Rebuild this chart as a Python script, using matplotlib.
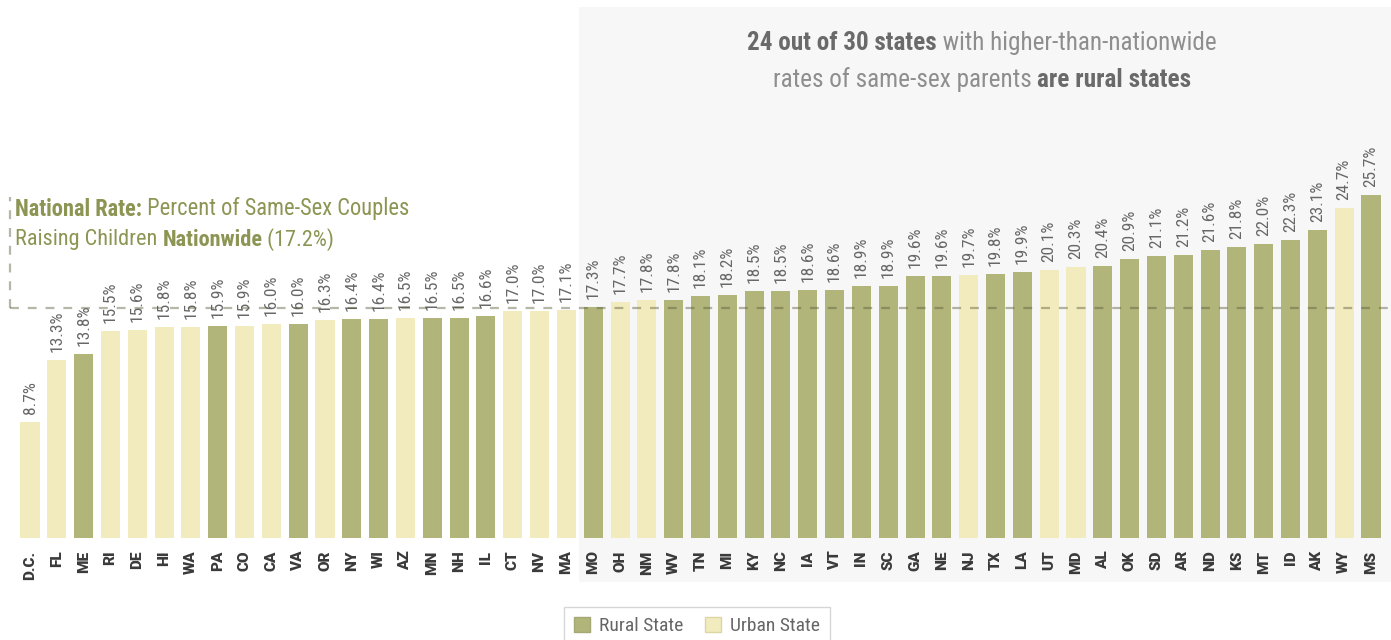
import matplotlib
matplotlib.use('Agg')
import matplotlib.pyplot as plt
from matplotlib import font_manager
from matplotlib.patches import Patch, Rectangle

# narrow-ish font if available
names = {f.name for f in font_manager.fontManager.ttflist}
font = 'Roboto Condensed' if 'Roboto Condensed' in names else 'Roboto'
plt.rcParams['font.family'] = [font, 'DejaVu Sans']

states = ['D.C.', 'FL', 'ME', 'RI', 'DE', 'HI', 'WA', 'PA', 'CO', 'CA', 'VA', 'OR', 'NY',
          'WI', 'AZ', 'MN', 'NH', 'IL', 'CT', 'NV', 'MA', 'MO', 'OH', 'NM', 'WV', 'TN',
          'MI', 'KY', 'NC', 'IA', 'VT', 'IN', 'SC', 'GA', 'NE', 'NJ', 'TX', 'LA', 'UT',
          'MD', 'AL', 'OK', 'SD', 'AR', 'ND', 'KS', 'MT', 'ID', 'AK', 'WY', 'MS']
rates = [8.7, 13.3, 13.8, 15.5, 15.6, 15.8, 15.8, 15.9, 15.9, 16.0, 16.0, 16.3, 16.4,
         16.4, 16.5, 16.5, 16.5, 16.6, 17.0, 17.0, 17.1, 17.3, 17.7, 17.8, 17.8, 18.1,
         18.2, 18.5, 18.5, 18.6, 18.6, 18.9, 18.9, 19.6, 19.6, 19.7, 19.8, 19.9, 20.1,
         20.3, 20.4, 20.9, 21.1, 21.2, 21.6, 21.8, 22.0, 22.3, 23.1, 24.7, 25.7]
kind = ['U', 'U', 'R', 'U', 'U', 'U', 'U', 'R', 'U', 'U', 'R', 'U', 'R',
        'R', 'U', 'R', 'R', 'R', 'U', 'U', 'U', 'R', 'U', 'U', 'R', 'R',
        'R', 'R', 'R', 'R', 'R', 'R', 'R', 'R', 'R', 'U', 'R', 'R', 'U',
        'U', 'R', 'R', 'R', 'R', 'R', 'R', 'R', 'R', 'R', 'U', 'R']
national = 17.2

RURAL = '#b1b57a'
URBAN = '#f2ebbd'
colors = [RURAL if k == 'R' else URBAN for k in kind]

W, H = 1391, 640
fig = plt.figure(figsize=(W / 100, H / 100), dpi=100)

# grey panel behind the right half
fig.patches.append(Rectangle((579 / W, 1 - 582 / H), 1 - 579 / W, (582 - 7) / H,
                             transform=fig.transFigure, facecolor='#f7f7f7',
                             edgecolor='none', zorder=-1))

base = 538
pxu = 13.35  # pixels per percent
ax = fig.add_axes([0, 1 - base / H, 1, base / H])
ax.set_facecolor('none')
step = 26.82
x0 = 30
ax.set_xlim(-x0 / step, (W - x0) / step)
ax.set_ylim(0, base / pxu)

xs = list(range(len(states)))
ax.bar(xs, rates, width=0.71, color=colors, zorder=2)
for x, v in zip(xs, rates):
    ax.text(x, v + 0.6, f'{v:.1f}%', rotation=90, ha='center', va='bottom',
            fontsize=12.5, color='#676767', zorder=3)

ax.set_xticks(xs)
ax.set_xticklabels(states, rotation=90, fontsize=11, fontweight='heavy', color='#3a3a3a',
                   family=['Roboto', 'DejaVu Sans'])
ax.tick_params(axis='x', length=0, pad=9)
ax.set_yticks([])
for s in ax.spines.values():
    s.set_visible(False)

# national rate dashed marker
lx = (10 - x0) / step
ax.plot([lx, ax.get_xlim()[1]], [national, national], ls=(0, (4, 4)), lw=1.6,
        color='#5d5d40', alpha=0.45, zorder=4)
ax.plot([lx, lx], [national, (base - 197) / pxu], ls=(0, (4, 4)), lw=1.6,
        color='#5d5d40', alpha=0.45, zorder=4)

renderer = fig.canvas.get_renderer()


def rich_line(parts, x, y, size, width=None, align='left'):
    texts = []
    for s, bold, col in parts:
        t = fig.text(0, 0, s, fontsize=size, fontweight='bold' if bold else 'normal',
                     color=col, va='center', ha='left')
        texts.append(t)
    widths = [t.get_window_extent(renderer).width for t in texts]
    if width:
        k = width / sum(widths)
        for t in texts:
            t.set_fontsize(size * k)
        widths = [t.get_window_extent(renderer).width for t in texts]
    total = sum(widths)
    cur = x - total / 2 if align == 'center' else x
    for t, w in zip(texts, widths):
        t.set_position((cur / W, 1 - y / H))
        cur += w


OLIVE = '#8c9553'
rich_line([('National Rate:', True, OLIVE), (' Percent of Same-Sex Couples', False, OLIVE)],
          15, 209, 15, width=395)
rich_line([('Raising Children ', False, OLIVE), ('Nationwide', True, OLIVE),
           (' (17.2%)', False, OLIVE)], 15, 240, 15, width=321)

G1, G2 = '#6a6a6a', '#8e8e8e'
rich_line([('24 out of 30 states', True, G1), (' with higher-than-nationwide', False, G2)],
          982, 43, 16, width=469, align='center')
rich_line([('rates of same-sex parents ', False, G2), ('are rural states', True, G1)],
          982, 80, 16, width=421, align='center')

handles = [Patch(facecolor=RURAL, edgecolor='#a4a874', label='Rural State'),
           Patch(facecolor=URBAN, edgecolor='#ddd6a4', label='Urban State')]
leg = fig.legend(handles=handles, loc='upper center', bbox_to_anchor=(697 / W, 1 - 607 / H),
                 ncol=2, frameon=True, fancybox=False, fontsize=14, handlelength=0.85,
                 handleheight=0.85, handletextpad=0.45, columnspacing=1.1,
                 borderpad=0.5, borderaxespad=0, labelcolor='#666666')
leg.get_frame().set_edgecolor('#cccccc')
leg.get_frame().set_linewidth(1.0)

fig.savefig('out.png', dpi=100)
